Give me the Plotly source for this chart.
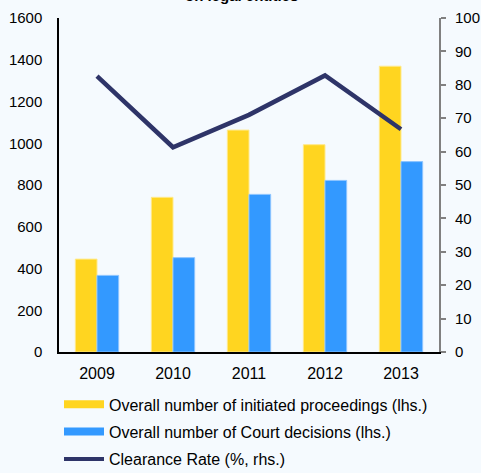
import plotly.graph_objects as go

years = ["2009", "2010", "2011", "2012", "2013"]
initiated = [445, 741, 1063, 993, 1369]
decisions = [367, 452, 755, 822, 912]
clearance = [82.6, 61.3, 71.0, 82.8, 66.7]

YELLOW = "#FFD520"
BLUE = "#3399FF"
NAVY = "#2E3468"
BG = "#F5FAFE"
FONT = "Liberation Sans, Arial, sans-serif"

fig = go.Figure()

fig.add_trace(go.Bar(x=years, y=initiated, marker=dict(color=YELLOW, line=dict(color="#FFE98A", width=1)),
                     showlegend=False, yaxis="y"))
fig.add_trace(go.Bar(x=years, y=decisions, marker=dict(color=BLUE, line=dict(color="#8CC4FF", width=1)),
                     showlegend=False, yaxis="y"))
fig.add_trace(go.Scatter(x=years, y=clearance, mode="lines", line=dict(color=NAVY, width=4.5),
                         showlegend=False, yaxis="y2"))

# legend entries drawn as wide swatches
fig.add_trace(go.Scatter(x=[None], y=[None], mode="lines", line=dict(color=YELLOW, width=8),
                         name="Overall number of initiated proceedings (lhs.)", legendgroup="a"))
fig.add_trace(go.Scatter(x=[None], y=[None], mode="lines", line=dict(color=BLUE, width=8),
                         name="Overall number of Court decisions (lhs.)", legendgroup="b"))
fig.add_trace(go.Scatter(x=[None], y=[None], mode="lines", line=dict(color=NAVY, width=4),
                         name="Clearance Rate (%, rhs.)", legendgroup="c"))

fig.update_layout(
    width=481, height=473,
    margin=dict(l=59, r=42, t=18, b=121, autoexpand=False),
    paper_bgcolor=BG, plot_bgcolor=BG,
    font=dict(family=FONT, size=15, color="#000000"),
    barmode="group", bargap=0.43, bargroupgap=0,
    xaxis=dict(showline=True, linecolor="#000000", linewidth=1.5, ticks="", showgrid=False,
               tickfont=dict(size=16), ticklabelstandoff=6),
    yaxis=dict(range=[0, 1600], dtick=200, showline=True, linecolor="#000000", linewidth=1.5,
               ticks="", showgrid=False, zeroline=False, tickfont=dict(size=15), ticklabelstandoff=12),
    yaxis2=dict(range=[0, 100], dtick=10, overlaying="y", side="right", showline=True,
                linecolor="#808080", linewidth=2, ticks="outside", ticklen=5, tickcolor="#808080",
                tickwidth=1.5, showgrid=False, zeroline=False, tickfont=dict(size=15), ticklabelstandoff=6),
    legend=dict(orientation="v", x=0.0, xanchor="left", y=-0.106, yanchor="top",
                bgcolor="rgba(0,0,0,0)", font=dict(size=16), tracegroupgap=3.5, itemwidth=40),
    annotations=[dict(text="<b>on legal entities</b>", xref="paper", yref="paper", x=0.48, y=1,
                      yanchor="bottom", yshift=12, showarrow=False, font=dict(size=15))],
)

fig.write_html("out.html")
